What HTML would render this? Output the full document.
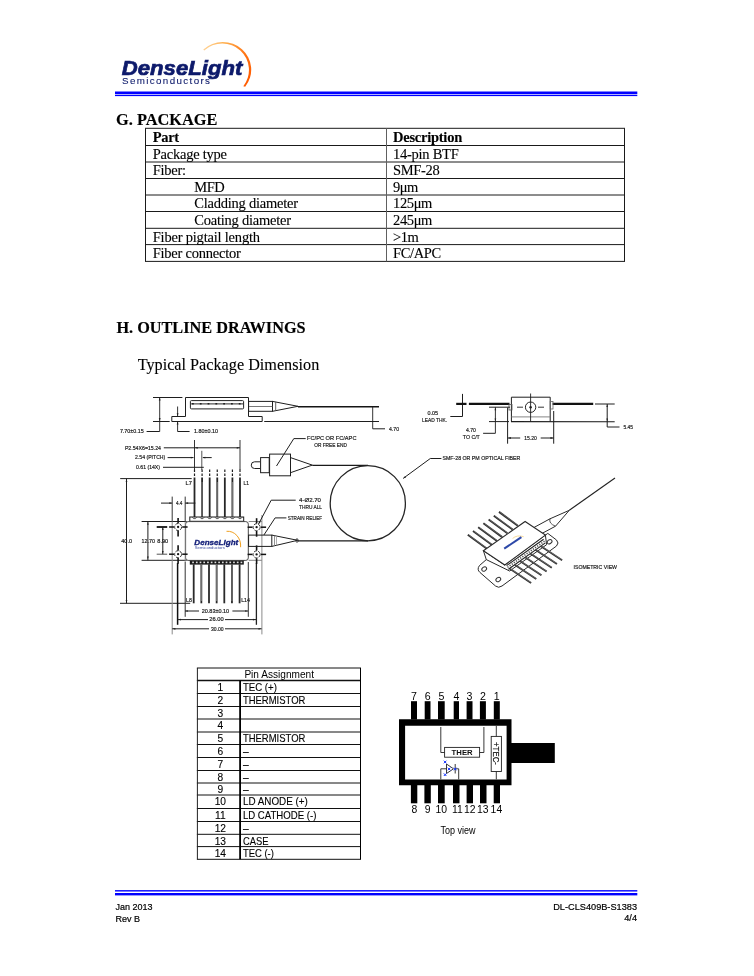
<!DOCTYPE html><html><head><meta charset="utf-8"><title>DenseLight DL-CLS409B-S1383 - Package</title>
<style>html,body{margin:0;padding:0;background:#fff;}body{width:754px;height:976px;overflow:hidden;position:relative;font-family:"Liberation Sans",sans-serif;}svg{position:absolute;left:0;top:0;display:block;will-change:transform;}</style></head><body>
<svg width="754" height="976" viewBox="0 0 754 976">
<defs><linearGradient id="arcg" gradientUnits="userSpaceOnUse" x1="200" y1="45" x2="252" y2="80"><stop offset="0" stop-color="#ffe0b0"/><stop offset="0.3" stop-color="#ffb050"/><stop offset="0.7" stop-color="#ff7010"/><stop offset="1" stop-color="#ff5a00"/></linearGradient></defs>
<path d="M203.3,49.4 A28.5,27.7 0 0 1 245.2,86.7 L243.3,86.3 A26.6,26.5 0 0 0 204.2,50.6 Z" fill="url(#arcg)"/>
<text x="121.8" y="74.7" font-family='"Liberation Sans", sans-serif' font-size="20.5" font-weight="bold" fill="#0d1a6b" text-anchor="start" textLength="120.5" lengthAdjust="spacingAndGlyphs" font-style="italic" stroke="#0d1a6b" stroke-width="0.7">DenseLight</text>
<text x="122" y="84.3" font-family='"Liberation Sans", sans-serif' font-size="9.8" fill="#0d1a6b" textLength="88" lengthAdjust="spacing" stroke="#0d1a6b" stroke-width="0.1">Semiconductors</text>
<rect x="115" y="91.5" width="522.3" height="2.5" fill="#0000ff" stroke="none" stroke-width="1" />
<rect x="115" y="94.7" width="522.3" height="1.4" fill="#0000ff" stroke="none" stroke-width="1" />
<text x="116" y="125" font-family='"Liberation Serif", serif' font-size="16.35" font-weight="bold" fill="#000" text-anchor="start" stroke="#000" stroke-width="0.15">G. PACKAGE</text>
<line x1="145.0" y1="128.3" x2="625.0" y2="128.3" stroke="#1a1a1a" stroke-width="1.0" />
<line x1="145.0" y1="145.5" x2="625.0" y2="145.5" stroke="#1a1a1a" stroke-width="1.0" />
<line x1="145.0" y1="162.0" x2="625.0" y2="162.0" stroke="#1a1a1a" stroke-width="1.0" />
<line x1="145.0" y1="178.5" x2="625.0" y2="178.5" stroke="#1a1a1a" stroke-width="1.0" />
<line x1="145.0" y1="195.0" x2="625.0" y2="195.0" stroke="#1a1a1a" stroke-width="1.0" />
<line x1="145.0" y1="211.5" x2="625.0" y2="211.5" stroke="#1a1a1a" stroke-width="1.0" />
<line x1="145.0" y1="228.3" x2="625.0" y2="228.3" stroke="#1a1a1a" stroke-width="1.0" />
<line x1="145.0" y1="244.6" x2="625.0" y2="244.6" stroke="#1a1a1a" stroke-width="1.0" />
<line x1="145.0" y1="261.4" x2="625.0" y2="261.4" stroke="#1a1a1a" stroke-width="1.0" />
<line x1="145.5" y1="128.3" x2="145.5" y2="261.4" stroke="#1a1a1a" stroke-width="1.0" />
<line x1="624.5" y1="128.3" x2="624.5" y2="261.4" stroke="#1a1a1a" stroke-width="1.0" />
<line x1="386.5" y1="128.3" x2="386.5" y2="261.4" stroke="#606060" stroke-width="1.0" />
<text x="152.7" y="141.7" font-family='"Liberation Serif", serif' font-size="14.5" font-weight="bold" fill="#000" text-anchor="start" textLength="26.43" lengthAdjust="spacing" stroke="#000" stroke-width="0.12">Part</text>
<text x="393" y="141.7" font-family='"Liberation Serif", serif' font-size="14.5" font-weight="bold" fill="#000" text-anchor="start" textLength="69.21" lengthAdjust="spacing" stroke="#000" stroke-width="0.12">Description</text>
<text x="152.7" y="158.9" font-family='"Liberation Serif", serif' font-size="14.5" font-weight="normal" fill="#000" text-anchor="start" textLength="74.25" lengthAdjust="spacing" stroke="#000" stroke-width="0.12">Package type</text>
<text x="393" y="158.9" font-family='"Liberation Serif", serif' font-size="14.5" font-weight="normal" fill="#000" text-anchor="start" textLength="65.73" lengthAdjust="spacing" stroke="#000" stroke-width="0.12">14-pin BTF</text>
<text x="152.7" y="175.4" font-family='"Liberation Serif", serif' font-size="14.5" font-weight="normal" fill="#000" text-anchor="start" textLength="33.44" lengthAdjust="spacing" stroke="#000" stroke-width="0.12">Fiber:</text>
<text x="393" y="175.4" font-family='"Liberation Serif", serif' font-size="14.5" font-weight="normal" fill="#000" text-anchor="start" textLength="46.68" lengthAdjust="spacing" stroke="#000" stroke-width="0.12">SMF-28</text>
<text x="194.3" y="191.9" font-family='"Liberation Serif", serif' font-size="14.5" font-weight="normal" fill="#000" text-anchor="start" textLength="30.35" lengthAdjust="spacing" stroke="#000" stroke-width="0.12">MFD</text>
<text x="393" y="191.9" font-family='"Liberation Serif", serif' font-size="14.5" font-weight="normal" fill="#000" text-anchor="start" textLength="25.4" lengthAdjust="spacing" stroke="#000" stroke-width="0.12">9&#956;m</text>
<text x="194.3" y="208.4" font-family='"Liberation Serif", serif' font-size="14.5" font-weight="normal" fill="#000" text-anchor="start" textLength="103.8" lengthAdjust="spacing" stroke="#000" stroke-width="0.12">Cladding diameter</text>
<text x="393" y="208.4" font-family='"Liberation Serif", serif' font-size="14.5" font-weight="normal" fill="#000" text-anchor="start" textLength="39.4" lengthAdjust="spacing" stroke="#000" stroke-width="0.12">125&#956;m</text>
<text x="194.3" y="224.9" font-family='"Liberation Serif", serif' font-size="14.5" font-weight="normal" fill="#000" text-anchor="start" textLength="96.8" lengthAdjust="spacing" stroke="#000" stroke-width="0.12">Coating diameter</text>
<text x="393" y="224.9" font-family='"Liberation Serif", serif' font-size="14.5" font-weight="normal" fill="#000" text-anchor="start" textLength="39.4" lengthAdjust="spacing" stroke="#000" stroke-width="0.12">245&#956;m</text>
<text x="152.7" y="241.7" font-family='"Liberation Serif", serif' font-size="14.5" font-weight="normal" fill="#000" text-anchor="start" textLength="107.31" lengthAdjust="spacing" stroke="#000" stroke-width="0.12">Fiber pigtail length</text>
<text x="393" y="241.7" font-family='"Liberation Serif", serif' font-size="14.5" font-weight="normal" fill="#000" text-anchor="start" textLength="25.78" lengthAdjust="spacing" stroke="#000" stroke-width="0.12">&gt;1m</text>
<text x="152.7" y="258.0" font-family='"Liberation Serif", serif' font-size="14.5" font-weight="normal" fill="#000" text-anchor="start" textLength="88.25" lengthAdjust="spacing" stroke="#000" stroke-width="0.12">Fiber connector</text>
<text x="393" y="258.0" font-family='"Liberation Serif", serif' font-size="14.5" font-weight="normal" fill="#000" text-anchor="start" textLength="48.25" lengthAdjust="spacing" stroke="#000" stroke-width="0.12">FC/APC</text>
<text x="116.4" y="333.3" font-family='"Liberation Serif", serif' font-size="16.25" font-weight="bold" fill="#000" text-anchor="start" stroke="#000" stroke-width="0.15">H. OUTLINE DRAWINGS</text>
<text x="137.7" y="369.8" font-family='"Liberation Serif", serif' font-size="16.22" font-weight="normal" fill="#000" text-anchor="start" stroke="#000" stroke-width="0.1">Typical Package Dimension</text>
<g id="outline"><line x1="153" y1="397.5" x2="182.4" y2="397.5" stroke="#1e1e1e" stroke-width="1" />
<line x1="159.7" y1="397" x2="159.7" y2="431.5" stroke="#1e1e1e" stroke-width="0.9" />
<path d="M159.7,397.5 L160.58,400.38 L158.82,400.38 Z" fill="#1e1e1e"/>
<path d="M159.7,421 L158.82,418.12 L160.58,418.12 Z" fill="#1e1e1e"/>
<line x1="153" y1="421.5" x2="169.7" y2="421.5" stroke="#1e1e1e" stroke-width="1" />
<line x1="146.6" y1="431.5" x2="159.7" y2="431.5" stroke="#1e1e1e" stroke-width="1" />
<text x="119.9" y="433.21" font-family='"Liberation Sans", sans-serif' font-size="4.75" fill="#1a1a1a" stroke="#1a1a1a" stroke-width="0.16" textLength="23.8" lengthAdjust="spacingAndGlyphs">7.70&#177;0.15</text>
<path d="M185.5,416.5 V397.5 H248.5 V416.5" stroke="#1e1e1e" stroke-width="1" fill="none" />
<rect x="190.4" y="400.6" width="53.2" height="8.3" rx="1" ry="1" fill="none" stroke="#222" stroke-width="1"/>
<line x1="191" y1="403.9" x2="243" y2="403.9" stroke="#2a2a2a" stroke-width="1" />
<line x1="192" y1="403.7" x2="243" y2="403.7" stroke="#222" stroke-width="1.6" stroke-dasharray="1.8,6"/>
<path d="M185.5,416.5 H171.8 V421.5 H262.2 V416.5 H248.5" stroke="#1e1e1e" stroke-width="1" fill="none" />
<line x1="177.6" y1="406.5" x2="177.6" y2="416.4" stroke="#1e1e1e" stroke-width="0.9" />
<path d="M177.6,416.2 L176.72,413.32 L178.48,413.32 Z" fill="#1e1e1e"/>
<line x1="177.6" y1="421.3" x2="177.6" y2="431.5" stroke="#1e1e1e" stroke-width="0.9" />
<path d="M177.6,421.6 L178.48,424.48 L176.72,424.48 Z" fill="#1e1e1e"/>
<line x1="177.6" y1="431.5" x2="189.6" y2="431.5" stroke="#1e1e1e" stroke-width="1" />
<text x="194" y="433.21" font-family='"Liberation Sans", sans-serif' font-size="4.75" fill="#1a1a1a" stroke="#1a1a1a" stroke-width="0.16" textLength="24" lengthAdjust="spacingAndGlyphs">1.80&#177;0.10</text>
<rect x="248.6" y="401.4" width="23.9" height="9.9" stroke="#1e1e1e" stroke-width="1" fill="none" />
<line x1="249" y1="406.5" x2="272.5" y2="406.5" stroke="#555" stroke-width="0.8" />
<path d="M272.5,401.4 L298,406.3 L272.5,411.3" stroke="#1e1e1e" stroke-width="1" fill="none" />
<line x1="275.7" y1="401.8" x2="275.7" y2="411" stroke="#555" stroke-width="0.9" />
<line x1="298" y1="406.8" x2="379" y2="406.8" stroke="#151515" stroke-width="1.5" />
<line x1="264.2" y1="421.5" x2="379" y2="421.5" stroke="#1e1e1e" stroke-width="1.1" />
<line x1="372.7" y1="406.8" x2="372.7" y2="428.8" stroke="#1e1e1e" stroke-width="0.9" />
<line x1="372.7" y1="428.8" x2="385" y2="428.8" stroke="#1e1e1e" stroke-width="1" />
<text x="389" y="430.51" font-family='"Liberation Sans", sans-serif' font-size="4.75" fill="#1a1a1a" stroke="#1a1a1a" stroke-width="0.16" textLength="10" lengthAdjust="spacingAndGlyphs">4.70</text>
<text x="427.4" y="415.31" font-family='"Liberation Sans", sans-serif' font-size="4.75" fill="#1a1a1a" stroke="#1a1a1a" stroke-width="0.16" textLength="10.6" lengthAdjust="spacingAndGlyphs">0.05</text>
<text x="422" y="422.01" font-family='"Liberation Sans", sans-serif' font-size="4.75" fill="#1a1a1a" stroke="#1a1a1a" stroke-width="0.16" textLength="25" lengthAdjust="spacingAndGlyphs">LEAD THK.</text>
<line x1="462.5" y1="393.9" x2="462.5" y2="416.5" stroke="#1e1e1e" stroke-width="1" />
<line x1="450.3" y1="416.5" x2="462.5" y2="416.5" stroke="#1e1e1e" stroke-width="1" />
<line x1="456.2" y1="403.9" x2="466.5" y2="403.9" stroke="#111" stroke-width="2.2" />
<line x1="468.9" y1="403.9" x2="509.5" y2="403.9" stroke="#111" stroke-width="2.2" />
<path d="M511.4,421.5 V397.2 H550.2 V421.5" stroke="#1e1e1e" stroke-width="1" fill="none" />
<line x1="511.4" y1="416.9" x2="550.2" y2="416.9" stroke="#777" stroke-width="0.9" />
<rect x="509" y="404.5" width="3" height="5.5" stroke="#555" stroke-width="0.8" fill="none" />
<line x1="489" y1="407.2" x2="510" y2="407.2" stroke="#1e1e1e" stroke-width="1" />
<line x1="517" y1="407.2" x2="523" y2="407.2" stroke="#1e1e1e" stroke-width="0.9" />
<line x1="538" y1="407.2" x2="544" y2="407.2" stroke="#1e1e1e" stroke-width="0.9" />
<circle cx="530.6" cy="407.2" r="5.2" fill="none" stroke="#222" stroke-width="1"/>
<circle cx="530.6" cy="407.2" r="1.2" fill="#222"/>
<line x1="530.6" y1="393.5" x2="530.6" y2="421.8" stroke="#1e1e1e" stroke-width="0.9" />
<line x1="489" y1="421.6" x2="509" y2="421.6" stroke="#1e1e1e" stroke-width="1" />
<line x1="511" y1="421.6" x2="614.7" y2="421.7" stroke="#1e1e1e" stroke-width="1.1" />
<line x1="495.4" y1="407.2" x2="495.4" y2="433.3" stroke="#1e1e1e" stroke-width="0.9" />
<path d="M495.4,407.6 L496.22,410.3 L494.57,410.3 Z" fill="#1e1e1e"/>
<path d="M495.4,421.2 L494.57,418.5 L496.22,418.5 Z" fill="#1e1e1e"/>
<line x1="483.1" y1="433.3" x2="495.4" y2="433.3" stroke="#1e1e1e" stroke-width="1" />
<text x="465.9" y="431.81" font-family='"Liberation Sans", sans-serif' font-size="4.75" fill="#1a1a1a" stroke="#1a1a1a" stroke-width="0.16" textLength="9.9" lengthAdjust="spacingAndGlyphs">4.70</text>
<text x="462.8" y="439.01" font-family='"Liberation Sans", sans-serif' font-size="4.75" fill="#1a1a1a" stroke="#1a1a1a" stroke-width="0.16" textLength="17.0" lengthAdjust="spacingAndGlyphs">TO C/T</text>
<line x1="507.6" y1="407.5" x2="507.6" y2="443.7" stroke="#1e1e1e" stroke-width="1" />
<line x1="507.6" y1="438" x2="520.2" y2="438" stroke="#1e1e1e" stroke-width="1" />
<path d="M508,438 L510.88,437.12 L510.88,438.88 Z" fill="#1e1e1e"/>
<text x="524.2" y="439.71" font-family='"Liberation Sans", sans-serif' font-size="4.75" fill="#1a1a1a" stroke="#1a1a1a" stroke-width="0.16" textLength="12.6" lengthAdjust="spacingAndGlyphs">15.20</text>
<line x1="553.7" y1="411" x2="553.7" y2="443.7" stroke="#1e1e1e" stroke-width="1" />
<line x1="540.7" y1="438" x2="553.7" y2="438" stroke="#1e1e1e" stroke-width="1" />
<path d="M553.3,438 L550.42,438.88 L550.42,437.12 Z" fill="#1e1e1e"/>
<line x1="552.6" y1="403.9" x2="593.2" y2="403.9" stroke="#111" stroke-width="2.2" />
<rect x="550.2" y="401.5" width="2.8" height="7.5" stroke="#666" stroke-width="0.8" fill="none" />
<line x1="595" y1="404" x2="614.7" y2="404" stroke="#1e1e1e" stroke-width="1" />
<line x1="607.2" y1="404" x2="607.2" y2="427" stroke="#1e1e1e" stroke-width="1" />
<path d="M607.2,404.4 L608.03,407.1 L606.38,407.1 Z" fill="#1e1e1e"/>
<path d="M607.2,421.3 L606.38,418.6 L608.03,418.6 Z" fill="#1e1e1e"/>
<line x1="607.2" y1="427" x2="619.5" y2="427" stroke="#1e1e1e" stroke-width="1" />
<text x="623.5" y="428.71" font-family='"Liberation Sans", sans-serif' font-size="4.75" fill="#1a1a1a" stroke="#1a1a1a" stroke-width="0.16" textLength="9.5" lengthAdjust="spacingAndGlyphs">5.45</text>
<text x="124.9" y="449.51" font-family='"Liberation Sans", sans-serif' font-size="4.75" fill="#1a1a1a" stroke="#1a1a1a" stroke-width="0.16" textLength="36.1" lengthAdjust="spacingAndGlyphs">P2.54X6=15.24</text>
<line x1="163.8" y1="447.8" x2="240" y2="447.8" stroke="#1e1e1e" stroke-width="1" />
<path d="M239.6,447.8 L236.72,448.68 L236.72,446.92 Z" fill="#1e1e1e"/>
<path d="M194.9,447.8 L197.78,446.92 L197.78,448.68 Z" fill="#1e1e1e"/>
<line x1="194.5" y1="440" x2="194.5" y2="470" stroke="#1e1e1e" stroke-width="0.9" />
<line x1="240" y1="440" x2="240" y2="470" stroke="#1e1e1e" stroke-width="0.9" />
<text x="135" y="459.31" font-family='"Liberation Sans", sans-serif' font-size="4.75" fill="#1a1a1a" stroke="#1a1a1a" stroke-width="0.16" textLength="30.3" lengthAdjust="spacingAndGlyphs">2.54 (PITCH)</text>
<line x1="167.6" y1="457.6" x2="193.5" y2="457.6" stroke="#1e1e1e" stroke-width="1" />
<path d="M193.5,457.6 L190.8,458.43 L190.8,456.78 Z" fill="#1e1e1e"/>
<line x1="202.8" y1="457.6" x2="211.7" y2="457.6" stroke="#1e1e1e" stroke-width="1" />
<path d="M202.6,457.6 L205.3,456.78 L205.3,458.43 Z" fill="#1e1e1e"/>
<line x1="201.8" y1="450.8" x2="201.8" y2="470" stroke="#555" stroke-width="1" />
<text x="136" y="469.01" font-family='"Liberation Sans", sans-serif' font-size="4.75" fill="#1a1a1a" stroke="#1a1a1a" stroke-width="0.16" textLength="24" lengthAdjust="spacingAndGlyphs">0.61 (14X)</text>
<line x1="163" y1="467.3" x2="203.8" y2="467.3" stroke="#1e1e1e" stroke-width="1" />
<line x1="194.5" y1="469.5" x2="194.5" y2="476.5" stroke="#1e1e1e" stroke-width="1.2" stroke-dasharray="2.5,1.5"/>
<line x1="194.5" y1="477.5" x2="194.5" y2="517" stroke="#262626" stroke-width="1.8" />
<line x1="202.08333333333334" y1="469.5" x2="202.08333333333334" y2="476.5" stroke="#1e1e1e" stroke-width="1.2" stroke-dasharray="2.5,1.5"/>
<line x1="202.08333333333334" y1="477.5" x2="202.08333333333334" y2="517" stroke="#262626" stroke-width="1.8" />
<line x1="202.08333333333334" y1="482" x2="202.08333333333334" y2="517" stroke="#b0b0b0" stroke-width="0.6" />
<line x1="209.66666666666666" y1="469.5" x2="209.66666666666666" y2="476.5" stroke="#1e1e1e" stroke-width="1.2" stroke-dasharray="2.5,1.5"/>
<line x1="209.66666666666666" y1="477.5" x2="209.66666666666666" y2="517" stroke="#262626" stroke-width="1.8" />
<line x1="217.25" y1="469.5" x2="217.25" y2="476.5" stroke="#1e1e1e" stroke-width="1.2" stroke-dasharray="2.5,1.5"/>
<line x1="217.25" y1="477.5" x2="217.25" y2="517" stroke="#262626" stroke-width="1.8" />
<line x1="217.25" y1="482" x2="217.25" y2="517" stroke="#b0b0b0" stroke-width="0.6" />
<line x1="224.83333333333334" y1="469.5" x2="224.83333333333334" y2="476.5" stroke="#1e1e1e" stroke-width="1.2" stroke-dasharray="2.5,1.5"/>
<line x1="224.83333333333334" y1="477.5" x2="224.83333333333334" y2="517" stroke="#262626" stroke-width="1.8" />
<line x1="232.41666666666666" y1="469.5" x2="232.41666666666666" y2="476.5" stroke="#1e1e1e" stroke-width="1.2" stroke-dasharray="2.5,1.5"/>
<line x1="232.41666666666666" y1="477.5" x2="232.41666666666666" y2="517" stroke="#262626" stroke-width="1.8" />
<line x1="232.41666666666666" y1="482" x2="232.41666666666666" y2="517" stroke="#b0b0b0" stroke-width="0.6" />
<line x1="240.0" y1="469.5" x2="240.0" y2="476.5" stroke="#1e1e1e" stroke-width="1.2" stroke-dasharray="2.5,1.5"/>
<line x1="240.0" y1="477.5" x2="240.0" y2="517" stroke="#262626" stroke-width="1.8" />
<text x="185.5" y="485.31" font-family='"Liberation Sans", sans-serif' font-size="4.75" fill="#1a1a1a" stroke="#1a1a1a" stroke-width="0.16" textLength="6.3" lengthAdjust="spacingAndGlyphs">L7</text>
<text x="243.6" y="485.31" font-family='"Liberation Sans", sans-serif' font-size="4.75" fill="#1a1a1a" stroke="#1a1a1a" stroke-width="0.16" textLength="5.4" lengthAdjust="spacingAndGlyphs">L1</text>
<line x1="120.2" y1="478.6" x2="191.7" y2="478.6" stroke="#1e1e1e" stroke-width="1" />
<line x1="126.5" y1="478.6" x2="126.5" y2="603.3" stroke="#1e1e1e" stroke-width="1" />
<path d="M126.5,479 L127.38,481.88 L125.62,481.88 Z" fill="#1e1e1e"/>
<path d="M126.5,603 L125.62,600.12 L127.38,600.12 Z" fill="#1e1e1e"/>
<text x="121.3" y="542.71" font-family='"Liberation Sans", sans-serif' font-size="4.75" fill="#1a1a1a" stroke="#1a1a1a" stroke-width="0.16" textLength="10.7" lengthAdjust="spacingAndGlyphs">40.0</text>
<line x1="120" y1="603.3" x2="190.2" y2="603.3" stroke="#1e1e1e" stroke-width="1" />
<line x1="161" y1="503.1" x2="172.2" y2="503.1" stroke="#1e1e1e" stroke-width="1" />
<path d="M172,503.1 L169.3,503.93 L169.3,502.28 Z" fill="#1e1e1e"/>
<line x1="185.2" y1="503.1" x2="195.4" y2="503.1" stroke="#1e1e1e" stroke-width="1" />
<path d="M185.4,503.1 L188.1,502.28 L188.1,503.93 Z" fill="#1e1e1e"/>
<text x="175.9" y="504.81" font-family='"Liberation Sans", sans-serif' font-size="4.75" fill="#1a1a1a" stroke="#1a1a1a" stroke-width="0.16" textLength="6.5" lengthAdjust="spacingAndGlyphs">4.4</text>
<rect x="189.8" y="517" width="53.9" height="4.3" stroke="#1a1a1a" stroke-width="1" fill="none" />
<path d="M192.3,517.2 L193.5,518.6 H195.5 L196.7,517.2" stroke="#333" stroke-width="0.8" fill="none" />
<path d="M199.88,517.2 L201.08,518.6 H203.08 L204.28,517.2" stroke="#333" stroke-width="0.8" fill="none" />
<path d="M207.47,517.2 L208.67,518.6 H210.67 L211.87,517.2" stroke="#333" stroke-width="0.8" fill="none" />
<path d="M215.05,517.2 L216.25,518.6 H218.25 L219.45,517.2" stroke="#333" stroke-width="0.8" fill="none" />
<path d="M222.63,517.2 L223.83,518.6 H225.83 L227.03,517.2" stroke="#333" stroke-width="0.8" fill="none" />
<path d="M230.22,517.2 L231.42,518.6 H233.42 L234.62,517.2" stroke="#333" stroke-width="0.8" fill="none" />
<path d="M237.8,517.2 L239.0,518.6 H241.0 L242.2,517.2" stroke="#333" stroke-width="0.8" fill="none" />
<line x1="141.6" y1="521.5" x2="186.7" y2="521.5" stroke="#1e1e1e" stroke-width="1" />
<line x1="141.6" y1="560.3" x2="186.7" y2="560.3" stroke="#1e1e1e" stroke-width="1" />
<line x1="147.9" y1="521.5" x2="147.9" y2="560.3" stroke="#1e1e1e" stroke-width="1" />
<path d="M147.9,522 L148.72,524.7 L147.08,524.7 Z" fill="#1e1e1e"/>
<path d="M147.9,559.3 L147.08,556.6 L148.72,556.6 Z" fill="#1e1e1e"/>
<text x="141.6" y="542.71" font-family='"Liberation Sans", sans-serif' font-size="4.75" fill="#1a1a1a" stroke="#1a1a1a" stroke-width="0.16" textLength="13.4" lengthAdjust="spacingAndGlyphs">12.70</text>
<line x1="156.7" y1="527" x2="167.2" y2="527" stroke="#111" stroke-width="1.8" />
<line x1="156.7" y1="554.2" x2="167.2" y2="554.2" stroke="#555" stroke-width="1" />
<line x1="162.8" y1="527" x2="162.8" y2="554.2" stroke="#1e1e1e" stroke-width="1" />
<path d="M162.8,527.4 L163.62,530.1 L161.98,530.1 Z" fill="#1e1e1e"/>
<path d="M162.8,553.8 L161.98,551.1 L163.62,551.1 Z" fill="#1e1e1e"/>
<text x="157.3" y="542.71" font-family='"Liberation Sans", sans-serif' font-size="4.75" fill="#1a1a1a" stroke="#1a1a1a" stroke-width="0.16" textLength="10.9" lengthAdjust="spacingAndGlyphs">8.90</text>
<line x1="248.7" y1="521.5" x2="262" y2="521.5" stroke="#777" stroke-width="0.9" />
<line x1="248.7" y1="560.3" x2="262" y2="560.3" stroke="#777" stroke-width="0.9" />
<rect x="185.6" y="521.6" width="62.7" height="38.8" rx="2.5" ry="2.5" fill="#fff" stroke="#333" stroke-width="0.9"/>
<path d="M226.5,531.3 A13,14.5 0 0 1 240.6,547.2" fill="none" stroke="#f0a020" stroke-width="1"/>
<text x="194.3" y="545" font-family='"Liberation Sans", sans-serif' font-size="8" font-weight="bold" font-style="italic" fill="#14207a" stroke="#14207a" stroke-width="0.3" textLength="44" lengthAdjust="spacingAndGlyphs">DenseLight</text>
<text x="194.8" y="548.8" font-family='"Liberation Sans", sans-serif' font-size="3.4" fill="#3a4aa0" textLength="30" lengthAdjust="spacingAndGlyphs">Semiconductors</text>
<rect x="189.8" y="560.6" width="54.0" height="4.0" stroke="none" stroke-width="0" fill="#1a1a1a" />
<rect x="192.2" y="561.6" width="1.7" height="1.6" fill="#fff" opacity="0.85"/>
<rect x="195.92" y="561.6" width="1.7" height="1.6" fill="#fff" opacity="0.85"/>
<rect x="199.64" y="561.6" width="1.7" height="1.6" fill="#fff" opacity="0.85"/>
<rect x="203.36" y="561.6" width="1.7" height="1.6" fill="#fff" opacity="0.85"/>
<rect x="207.08" y="561.6" width="1.7" height="1.6" fill="#fff" opacity="0.85"/>
<rect x="210.8" y="561.6" width="1.7" height="1.6" fill="#fff" opacity="0.85"/>
<rect x="214.52" y="561.6" width="1.7" height="1.6" fill="#fff" opacity="0.85"/>
<rect x="218.24" y="561.6" width="1.7" height="1.6" fill="#fff" opacity="0.85"/>
<rect x="221.96" y="561.6" width="1.7" height="1.6" fill="#fff" opacity="0.85"/>
<rect x="225.68" y="561.6" width="1.7" height="1.6" fill="#fff" opacity="0.85"/>
<rect x="229.4" y="561.6" width="1.7" height="1.6" fill="#fff" opacity="0.85"/>
<rect x="233.12" y="561.6" width="1.7" height="1.6" fill="#fff" opacity="0.85"/>
<rect x="236.84" y="561.6" width="1.7" height="1.6" fill="#fff" opacity="0.85"/>
<rect x="240.56" y="561.6" width="1.7" height="1.6" fill="#fff" opacity="0.85"/>
<line x1="193.7" y1="564.3" x2="193.7" y2="603.3" stroke="#2a2a2a" stroke-width="1.8" />
<line x1="201.35" y1="564.3" x2="201.35" y2="603.3" stroke="#2a2a2a" stroke-width="1.8" />
<line x1="201.35" y1="564.3" x2="201.35" y2="601" stroke="#b0b0b0" stroke-width="0.6" />
<line x1="209.0" y1="564.3" x2="209.0" y2="603.3" stroke="#2a2a2a" stroke-width="1.8" />
<line x1="216.64999999999998" y1="564.3" x2="216.64999999999998" y2="603.3" stroke="#2a2a2a" stroke-width="1.8" />
<line x1="216.64999999999998" y1="564.3" x2="216.64999999999998" y2="601" stroke="#b0b0b0" stroke-width="0.6" />
<line x1="224.29999999999998" y1="564.3" x2="224.29999999999998" y2="603.3" stroke="#2a2a2a" stroke-width="1.8" />
<line x1="231.95" y1="564.3" x2="231.95" y2="603.3" stroke="#2a2a2a" stroke-width="1.8" />
<line x1="231.95" y1="564.3" x2="231.95" y2="601" stroke="#b0b0b0" stroke-width="0.6" />
<line x1="239.6" y1="564.3" x2="239.6" y2="603.3" stroke="#2a2a2a" stroke-width="1.8" />
<text x="186" y="602.31" font-family='"Liberation Sans", sans-serif' font-size="4.75" fill="#1a1a1a" stroke="#1a1a1a" stroke-width="0.16" textLength="5.8" lengthAdjust="spacingAndGlyphs">L8</text>
<text x="241.2" y="602.31" font-family='"Liberation Sans", sans-serif' font-size="4.75" fill="#1a1a1a" stroke="#1a1a1a" stroke-width="0.16" textLength="8.8" lengthAdjust="spacingAndGlyphs">L14</text>
<line x1="172.2" y1="496.6" x2="172.2" y2="521.5" stroke="#1e1e1e" stroke-width="0.9" />
<line x1="172.2" y1="521.5" x2="172.2" y2="634.4" stroke="#8a8a8a" stroke-width="1" />
<line x1="185.2" y1="496.6" x2="185.2" y2="521.5" stroke="#1e1e1e" stroke-width="0.9" />
<line x1="185.2" y1="521.5" x2="185.2" y2="562" stroke="#8a8a8a" stroke-width="0.9" />
<line x1="185.2" y1="562" x2="185.2" y2="616.8" stroke="#333" stroke-width="1" />
<line x1="248.3" y1="562" x2="248.3" y2="616.8" stroke="#333" stroke-width="1" />
<line x1="261.9" y1="515" x2="261.9" y2="634.4" stroke="#8a8a8a" stroke-width="1" />
<line x1="177.6" y1="563" x2="177.6" y2="624.8" stroke="#111" stroke-width="1.5" />
<line x1="256.4" y1="563" x2="256.4" y2="624.8" stroke="#222" stroke-width="1.3" />
<circle cx="178.1" cy="527.0" r="3.5" fill="#fff" stroke="#222" stroke-width="0.9" stroke-dasharray="3.2,1.2"/>
<circle cx="178.1" cy="527.0" r="1.15" fill="#111"/>
<line x1="178.1" y1="518.0" x2="178.1" y2="523.2" stroke="#111" stroke-width="1.6" />
<line x1="178.1" y1="530.8" x2="178.1" y2="536.5" stroke="#111" stroke-width="1.6" />
<line x1="169.1" y1="527.0" x2="174.0" y2="527.0" stroke="#111" stroke-width="1.5" />
<line x1="182.2" y1="527.0" x2="187.6" y2="527.0" stroke="#111" stroke-width="1.5" />
<circle cx="178.1" cy="554.2" r="3.5" fill="#fff" stroke="#222" stroke-width="0.9" stroke-dasharray="3.2,1.2"/>
<circle cx="178.1" cy="554.2" r="1.15" fill="#111"/>
<line x1="178.1" y1="545.2" x2="178.1" y2="550.4000000000001" stroke="#111" stroke-width="1.6" />
<line x1="178.1" y1="558.0" x2="178.1" y2="563.7" stroke="#111" stroke-width="1.6" />
<line x1="169.1" y1="554.2" x2="174.0" y2="554.2" stroke="#111" stroke-width="1.5" />
<line x1="182.2" y1="554.2" x2="187.6" y2="554.2" stroke="#111" stroke-width="1.5" />
<circle cx="256.6" cy="527.2" r="3.5" fill="#fff" stroke="#222" stroke-width="0.9" stroke-dasharray="3.2,1.2"/>
<circle cx="256.6" cy="527.2" r="1.15" fill="#111"/>
<line x1="256.6" y1="518.2" x2="256.6" y2="523.4000000000001" stroke="#111" stroke-width="1.6" />
<line x1="256.6" y1="531.0" x2="256.6" y2="536.7" stroke="#111" stroke-width="1.6" />
<line x1="247.60000000000002" y1="527.2" x2="252.50000000000003" y2="527.2" stroke="#111" stroke-width="1.5" />
<line x1="260.70000000000005" y1="527.2" x2="266.1" y2="527.2" stroke="#111" stroke-width="1.5" />
<circle cx="256.6" cy="554.4" r="3.5" fill="#fff" stroke="#222" stroke-width="0.9" stroke-dasharray="3.2,1.2"/>
<circle cx="256.6" cy="554.4" r="1.15" fill="#111"/>
<line x1="256.6" y1="545.4" x2="256.6" y2="550.6" stroke="#111" stroke-width="1.6" />
<line x1="256.6" y1="558.1999999999999" x2="256.6" y2="563.9" stroke="#111" stroke-width="1.6" />
<line x1="247.60000000000002" y1="554.4" x2="252.50000000000003" y2="554.4" stroke="#111" stroke-width="1.5" />
<line x1="260.70000000000005" y1="554.4" x2="266.1" y2="554.4" stroke="#111" stroke-width="1.5" />
<line x1="185" y1="611" x2="199" y2="611" stroke="#1e1e1e" stroke-width="1" />
<line x1="232.4" y1="611" x2="248" y2="611" stroke="#1e1e1e" stroke-width="1" />
<path d="M185.2,611 L187.9,610.17 L187.9,611.83 Z" fill="#1e1e1e"/>
<path d="M247.8,611 L245.1,611.83 L245.1,610.17 Z" fill="#1e1e1e"/>
<text x="201.7" y="612.71" font-family='"Liberation Sans", sans-serif' font-size="4.75" fill="#1a1a1a" stroke="#1a1a1a" stroke-width="0.16" textLength="27.5" lengthAdjust="spacingAndGlyphs">20.83&#177;0.10</text>
<line x1="177.8" y1="619.6" x2="208" y2="619.6" stroke="#1e1e1e" stroke-width="1" />
<line x1="225" y1="619.6" x2="256" y2="619.6" stroke="#1e1e1e" stroke-width="1" />
<path d="M178,619.6 L180.88,618.72 L180.88,620.48 Z" fill="#1e1e1e"/>
<path d="M255.8,619.6 L252.92,620.48 L252.92,618.72 Z" fill="#1e1e1e"/>
<text x="209.3" y="621.31" font-family='"Liberation Sans", sans-serif' font-size="4.75" fill="#1a1a1a" stroke="#1a1a1a" stroke-width="0.16" textLength="14.4" lengthAdjust="spacingAndGlyphs">26.00</text>
<line x1="172.2" y1="628.8" x2="209" y2="628.8" stroke="#1e1e1e" stroke-width="1" />
<line x1="225" y1="628.8" x2="261.6" y2="628.8" stroke="#1e1e1e" stroke-width="1" />
<path d="M172.5,628.8 L175.38,627.92 L175.38,629.68 Z" fill="#1e1e1e"/>
<path d="M261.4,628.8 L258.52,629.68 L258.52,627.92 Z" fill="#1e1e1e"/>
<text x="211" y="630.51" font-family='"Liberation Sans", sans-serif' font-size="4.75" fill="#1a1a1a" stroke="#1a1a1a" stroke-width="0.16" textLength="12.7" lengthAdjust="spacingAndGlyphs">30.00</text>
<rect x="248.6" y="535.1" width="23.2" height="11.3" stroke="#1e1e1e" stroke-width="1" fill="none" />
<path d="M271.8,535.1 L297.7,540.3 L271.8,546.4" stroke="#1e1e1e" stroke-width="1" fill="none" />
<line x1="274.5" y1="535.6" x2="274.5" y2="545.8" stroke="#777" stroke-width="0.8" />
<line x1="276.5" y1="536" x2="276.5" y2="545.4" stroke="#999" stroke-width="0.8" />
<ellipse cx="297" cy="540.5" rx="1.2" ry="1.8" fill="none" stroke="#222" stroke-width="0.8"/>
<line x1="297.7" y1="540.9" x2="368" y2="540.9" stroke="#1a1a1a" stroke-width="1.3" />
<path d="M258.6,523.9 L271.2,500.2 H295.7" stroke="#1e1e1e" stroke-width="1" fill="none" />
<path d="M258.6,523.9 L259.14,521.13 L260.6,521.91 Z" fill="#1e1e1e"/>
<text x="299" y="501.71" font-family='"Liberation Sans", sans-serif' font-size="4.75" fill="#1a1a1a" stroke="#1a1a1a" stroke-width="0.16" textLength="22" lengthAdjust="spacingAndGlyphs">4-&#216;2.70</text>
<text x="299" y="508.61" font-family='"Liberation Sans", sans-serif' font-size="4.75" fill="#1a1a1a" stroke="#1a1a1a" stroke-width="0.16" textLength="23" lengthAdjust="spacingAndGlyphs">THRU ALL</text>
<path d="M263.9,535 L275.1,517.9 H286.4" stroke="#1e1e1e" stroke-width="1" fill="none" />
<text x="287.7" y="519.61" font-family='"Liberation Sans", sans-serif' font-size="4.75" fill="#1a1a1a" stroke="#1a1a1a" stroke-width="0.16" textLength="34.5" lengthAdjust="spacingAndGlyphs">STRAIN RELIEF</text>
<path d="M260,461.8 H254.6 A3.35,3.35 0 0 0 254.6,468.5 H260" stroke="#1e1e1e" stroke-width="1" fill="none" />
<rect x="260.6" y="457.6" width="8.6" height="15.1" stroke="#1e1e1e" stroke-width="1" fill="none" />
<rect x="269.6" y="454.1" width="20.9" height="21.7" stroke="#1e1e1e" stroke-width="1" fill="none" />
<path d="M290.5,457.6 L312.3,465.1 L290.5,472.7" stroke="#1e1e1e" stroke-width="1" fill="none" />
<line x1="312.3" y1="465.3" x2="368" y2="465.3" stroke="#1a1a1a" stroke-width="1.3" />
<path d="M276.5,466 L293.8,438.6 H305.7" stroke="#1e1e1e" stroke-width="1" fill="none" />
<text x="307" y="440.31" font-family='"Liberation Sans", sans-serif' font-size="4.75" fill="#1a1a1a" stroke="#1a1a1a" stroke-width="0.16" textLength="49.5" lengthAdjust="spacingAndGlyphs">FC/PC OR FC/APC</text>
<text x="314.2" y="446.71" font-family='"Liberation Sans", sans-serif' font-size="4.75" fill="#1a1a1a" stroke="#1a1a1a" stroke-width="0.16" textLength="32.7" lengthAdjust="spacingAndGlyphs">OR FREE END</text>
<circle cx="367.8" cy="503.2" r="37.6" fill="none" stroke="#252525" stroke-width="1.3"/>
<path d="M403.2,478.4 L430.3,458.5 H441.4" stroke="#1e1e1e" stroke-width="1" fill="none" />
<path d="M403.2,478.4 L405.01,475.99 L406.05,477.42 Z" fill="#1e1e1e"/>
<text x="442.4" y="460.21" font-family='"Liberation Sans", sans-serif' font-size="4.75" fill="#1a1a1a" stroke="#1a1a1a" stroke-width="0.16" textLength="78.0" lengthAdjust="spacingAndGlyphs">SMF-28 OR PM OPTICAL FIBER</text>
<line x1="615" y1="478" x2="569.3" y2="510.3" stroke="#222" stroke-width="1.1" />
<path d="M569.3,510.3 L550,518.8 M569.3,510.3 L555.5,526.2" stroke="#2a2a2a" stroke-width="1" fill="none" />
<path d="M550,518.8 Q548.5,523.5 555.5,526.2" stroke="#444" stroke-width="0.9" fill="none" />
<path d="M550,518.8 L533,528 M555.5,526.2 L540,534.5" stroke="#2a2a2a" stroke-width="1" fill="none" />
<line x1="467.8" y1="534.8" x2="486.6" y2="548.5999999999999" stroke="#2e2e2e" stroke-width="1.9" />
<line x1="468.8" y1="535.1999999999999" x2="486.6" y2="548.1999999999999" stroke="#888" stroke-width="0.5" />
<line x1="473.0" y1="530.9799999999999" x2="491.8" y2="544.7799999999999" stroke="#2e2e2e" stroke-width="1.9" />
<line x1="474.0" y1="531.3799999999999" x2="491.8" y2="544.3799999999999" stroke="#888" stroke-width="0.5" />
<line x1="478.2" y1="527.16" x2="497.0" y2="540.9599999999999" stroke="#2e2e2e" stroke-width="1.9" />
<line x1="479.2" y1="527.56" x2="497.0" y2="540.56" stroke="#888" stroke-width="0.5" />
<line x1="483.40000000000003" y1="523.3399999999999" x2="502.20000000000005" y2="537.1399999999999" stroke="#2e2e2e" stroke-width="1.9" />
<line x1="484.40000000000003" y1="523.7399999999999" x2="502.20000000000005" y2="536.7399999999999" stroke="#888" stroke-width="0.5" />
<line x1="488.6" y1="519.52" x2="507.40000000000003" y2="533.3199999999999" stroke="#2e2e2e" stroke-width="1.9" />
<line x1="489.6" y1="519.92" x2="507.40000000000003" y2="532.92" stroke="#888" stroke-width="0.5" />
<line x1="493.8" y1="515.6999999999999" x2="512.6" y2="529.4999999999999" stroke="#2e2e2e" stroke-width="1.9" />
<line x1="494.8" y1="516.0999999999999" x2="512.6" y2="529.0999999999999" stroke="#888" stroke-width="0.5" />
<line x1="499.0" y1="511.87999999999994" x2="517.8" y2="525.68" stroke="#2e2e2e" stroke-width="1.9" />
<line x1="500.0" y1="512.28" x2="517.8" y2="525.28" stroke="#888" stroke-width="0.5" />
<path d="M486.3,559.6 L479.5,565.5 Q476.5,569.5 480,572.5 L495.5,586 Q498.5,588.5 502,586 L556.5,546 Q559.5,543 556.5,540 L547.8,533.4 L545.4,535.1 Z" stroke="#2a2a2a" stroke-width="1" fill="#fff" />
<ellipse cx="484.2" cy="569" rx="2.6" ry="1.9" transform="rotate(-36 484.2 569)" fill="none" stroke="#333" stroke-width="1"/>
<ellipse cx="498.3" cy="579.5" rx="2.6" ry="1.9" transform="rotate(-36 498.3 579.5)" fill="none" stroke="#333" stroke-width="1"/>
<ellipse cx="549.6" cy="541.7" rx="2.6" ry="1.9" transform="rotate(-36 549.6 541.7)" fill="none" stroke="#333" stroke-width="1"/>
<path d="M483.4,550.7 L486.3,559.6 L509.6,571 L546.6,544.7 L545.4,535.1 L504.8,565 Z" stroke="#2a2a2a" stroke-width="1" fill="#fff" />
<path d="M483.4,550.7 L525.1,521.5 L545.4,535.1 L504.8,565 Z" stroke="#2a2a2a" stroke-width="1.1" fill="#fff" />
<path d="M506.6,565.6 L543.6,539.3 M508.4,569.2 L545.4,542.9" stroke="#222" stroke-width="1.1" fill="none" />
<path d="M507.5,567.4 L544.5,541.1" stroke="#555" stroke-width="1.6" fill="none" stroke-dasharray="1.2,1.4"/>
<line x1="509.6" y1="568.6" x2="531.1" y2="582.9" stroke="#2e2e2e" stroke-width="1.8" />
<line x1="510.1" y1="568.6" x2="530.6" y2="582.3" stroke="#999" stroke-width="0.5" />
<line x1="514.77" y1="564.82" x2="536.27" y2="579.12" stroke="#2e2e2e" stroke-width="1.8" />
<line x1="515.27" y1="564.82" x2="535.77" y2="578.52" stroke="#999" stroke-width="0.5" />
<line x1="519.94" y1="561.0400000000001" x2="541.44" y2="575.34" stroke="#2e2e2e" stroke-width="1.8" />
<line x1="520.44" y1="561.0400000000001" x2="540.94" y2="574.74" stroke="#999" stroke-width="0.5" />
<line x1="525.11" y1="557.26" x2="546.61" y2="571.56" stroke="#2e2e2e" stroke-width="1.8" />
<line x1="525.61" y1="557.26" x2="546.11" y2="570.9599999999999" stroke="#999" stroke-width="0.5" />
<line x1="530.28" y1="553.48" x2="551.78" y2="567.78" stroke="#2e2e2e" stroke-width="1.8" />
<line x1="530.78" y1="553.48" x2="551.28" y2="567.18" stroke="#999" stroke-width="0.5" />
<line x1="535.45" y1="549.7" x2="556.95" y2="564.0" stroke="#2e2e2e" stroke-width="1.8" />
<line x1="535.95" y1="549.7" x2="556.45" y2="563.4" stroke="#999" stroke-width="0.5" />
<line x1="540.62" y1="545.9200000000001" x2="562.12" y2="560.22" stroke="#2e2e2e" stroke-width="1.8" />
<line x1="541.12" y1="545.9200000000001" x2="561.62" y2="559.62" stroke="#999" stroke-width="0.5" />
<path d="M512.6,538.5 Q517,534.5 523.7,536.7" fill="none" stroke="#f4d080" stroke-width="0.8"/>
<line x1="504.2" y1="548.7" x2="521.4" y2="537.1" stroke="#2c48a8" stroke-width="2" />
<text x="573.5" y="568.91" font-family='"Liberation Sans", sans-serif' font-size="4.75" fill="#1a1a1a" stroke="#1a1a1a" stroke-width="0.16" textLength="43.5" lengthAdjust="spacingAndGlyphs">ISOMETRIC VIEW</text></g>
<line x1="196.9" y1="668.0" x2="361.0" y2="668.0" stroke="#111" stroke-width="1.0" />
<line x1="196.9" y1="680.5" x2="361.0" y2="680.5" stroke="#111" stroke-width="1.6" />
<line x1="196.9" y1="693.5" x2="361.0" y2="693.5" stroke="#111" stroke-width="1.0" />
<line x1="196.9" y1="706.5" x2="361.0" y2="706.5" stroke="#111" stroke-width="1.0" />
<line x1="196.9" y1="719.0" x2="361.0" y2="719.0" stroke="#111" stroke-width="1.0" />
<line x1="196.9" y1="732.0" x2="361.0" y2="732.0" stroke="#111" stroke-width="1.0" />
<line x1="196.9" y1="744.5" x2="361.0" y2="744.5" stroke="#111" stroke-width="1.0" />
<line x1="196.9" y1="757.5" x2="361.0" y2="757.5" stroke="#111" stroke-width="1.0" />
<line x1="196.9" y1="770.5" x2="361.0" y2="770.5" stroke="#111" stroke-width="1.0" />
<line x1="196.9" y1="783.0" x2="361.0" y2="783.0" stroke="#111" stroke-width="1.0" />
<line x1="196.9" y1="795.0" x2="361.0" y2="795.0" stroke="#111" stroke-width="1.0" />
<line x1="196.9" y1="808.5" x2="361.0" y2="808.5" stroke="#111" stroke-width="1.0" />
<line x1="196.9" y1="821.5" x2="361.0" y2="821.5" stroke="#111" stroke-width="1.0" />
<line x1="196.9" y1="834.3" x2="361.0" y2="834.3" stroke="#111" stroke-width="1.0" />
<line x1="196.9" y1="846.6" x2="361.0" y2="846.6" stroke="#111" stroke-width="1.0" />
<line x1="196.9" y1="859.3" x2="361.0" y2="859.3" stroke="#111" stroke-width="1.0" />
<line x1="197.4" y1="668.0" x2="197.4" y2="859.3" stroke="#222" stroke-width="1.0" />
<line x1="360.5" y1="668.0" x2="360.5" y2="859.3" stroke="#000" stroke-width="1.0" />
<line x1="240.1" y1="680.5" x2="240.1" y2="859.3" stroke="#000" stroke-width="1.8" />
<text x="279.2" y="677.9" font-family='"Liberation Sans", sans-serif' font-size="10" font-weight="normal" fill="#000" text-anchor="middle" textLength="69.6" lengthAdjust="spacingAndGlyphs" >Pin Assignment</text>
<text x="220.3" y="690.7" font-family='"Liberation Sans", sans-serif' font-size="10.2" font-weight="normal" fill="#000" text-anchor="middle" stroke="#000" stroke-width="0.12">1</text>
<text x="242.9" y="690.7" font-family='"Liberation Sans", sans-serif' font-size="10.2" font-weight="normal" fill="#000" text-anchor="start" textLength="34" lengthAdjust="spacingAndGlyphs" stroke="#000" stroke-width="0.12">TEC (+)</text>
<text x="220.3" y="703.7" font-family='"Liberation Sans", sans-serif' font-size="10.2" font-weight="normal" fill="#000" text-anchor="middle" stroke="#000" stroke-width="0.12">2</text>
<text x="242.9" y="703.7" font-family='"Liberation Sans", sans-serif' font-size="10.2" font-weight="normal" fill="#000" text-anchor="start" textLength="62.5" lengthAdjust="spacingAndGlyphs" stroke="#000" stroke-width="0.12">THERMISTOR</text>
<text x="220.3" y="716.7" font-family='"Liberation Sans", sans-serif' font-size="10.2" font-weight="normal" fill="#000" text-anchor="middle" stroke="#000" stroke-width="0.12">3</text>
<text x="220.3" y="729.2" font-family='"Liberation Sans", sans-serif' font-size="10.2" font-weight="normal" fill="#000" text-anchor="middle" stroke="#000" stroke-width="0.12">4</text>
<text x="220.3" y="742.2" font-family='"Liberation Sans", sans-serif' font-size="10.2" font-weight="normal" fill="#000" text-anchor="middle" stroke="#000" stroke-width="0.12">5</text>
<text x="242.9" y="742.2" font-family='"Liberation Sans", sans-serif' font-size="10.2" font-weight="normal" fill="#000" text-anchor="start" textLength="62.5" lengthAdjust="spacingAndGlyphs" stroke="#000" stroke-width="0.12">THERMISTOR</text>
<text x="220.3" y="754.7" font-family='"Liberation Sans", sans-serif' font-size="10.2" font-weight="normal" fill="#000" text-anchor="middle" stroke="#000" stroke-width="0.12">6</text>
<text x="242.9" y="754.7" font-family='"Liberation Sans", sans-serif' font-size="10.2" font-weight="normal" fill="#000" text-anchor="start" stroke="#000" stroke-width="0.12">&#8211;</text>
<text x="220.3" y="767.7" font-family='"Liberation Sans", sans-serif' font-size="10.2" font-weight="normal" fill="#000" text-anchor="middle" stroke="#000" stroke-width="0.12">7</text>
<text x="242.9" y="767.7" font-family='"Liberation Sans", sans-serif' font-size="10.2" font-weight="normal" fill="#000" text-anchor="start" stroke="#000" stroke-width="0.12">&#8211;</text>
<text x="220.3" y="780.7" font-family='"Liberation Sans", sans-serif' font-size="10.2" font-weight="normal" fill="#000" text-anchor="middle" stroke="#000" stroke-width="0.12">8</text>
<text x="242.9" y="780.7" font-family='"Liberation Sans", sans-serif' font-size="10.2" font-weight="normal" fill="#000" text-anchor="start" stroke="#000" stroke-width="0.12">&#8211;</text>
<text x="220.3" y="793.2" font-family='"Liberation Sans", sans-serif' font-size="10.2" font-weight="normal" fill="#000" text-anchor="middle" stroke="#000" stroke-width="0.12">9</text>
<text x="242.9" y="793.2" font-family='"Liberation Sans", sans-serif' font-size="10.2" font-weight="normal" fill="#000" text-anchor="start" stroke="#000" stroke-width="0.12">&#8211;</text>
<text x="220.3" y="805.2" font-family='"Liberation Sans", sans-serif' font-size="10.2" font-weight="normal" fill="#000" text-anchor="middle" stroke="#000" stroke-width="0.12">10</text>
<text x="242.9" y="805.2" font-family='"Liberation Sans", sans-serif' font-size="10.2" font-weight="normal" fill="#000" text-anchor="start" textLength="65" lengthAdjust="spacingAndGlyphs" stroke="#000" stroke-width="0.12">LD ANODE (+)</text>
<text x="220.3" y="818.7" font-family='"Liberation Sans", sans-serif' font-size="10.2" font-weight="normal" fill="#000" text-anchor="middle" stroke="#000" stroke-width="0.12">11</text>
<text x="242.9" y="818.7" font-family='"Liberation Sans", sans-serif' font-size="10.2" font-weight="normal" fill="#000" text-anchor="start" textLength="73.5" lengthAdjust="spacingAndGlyphs" stroke="#000" stroke-width="0.12">LD CATHODE (-)</text>
<text x="220.3" y="831.7" font-family='"Liberation Sans", sans-serif' font-size="10.2" font-weight="normal" fill="#000" text-anchor="middle" stroke="#000" stroke-width="0.12">12</text>
<text x="242.9" y="831.7" font-family='"Liberation Sans", sans-serif' font-size="10.2" font-weight="normal" fill="#000" text-anchor="start" stroke="#000" stroke-width="0.12">&#8211;</text>
<text x="220.3" y="844.5" font-family='"Liberation Sans", sans-serif' font-size="10.2" font-weight="normal" fill="#000" text-anchor="middle" stroke="#000" stroke-width="0.12">13</text>
<text x="242.9" y="844.5" font-family='"Liberation Sans", sans-serif' font-size="10.2" font-weight="normal" fill="#000" text-anchor="start" textLength="25.5" lengthAdjust="spacingAndGlyphs" stroke="#000" stroke-width="0.12">CASE</text>
<text x="220.3" y="856.8" font-family='"Liberation Sans", sans-serif' font-size="10.2" font-weight="normal" fill="#000" text-anchor="middle" stroke="#000" stroke-width="0.12">14</text>
<text x="242.9" y="856.8" font-family='"Liberation Sans", sans-serif' font-size="10.2" font-weight="normal" fill="#000" text-anchor="start" textLength="31" lengthAdjust="spacingAndGlyphs" stroke="#000" stroke-width="0.12">TEC (-)</text>
<g id="schem"><path d="M399,719.3 H511.5 V785.3 H399 Z M405.1,725.8 V779.4 H506.6 V725.8 Z" fill="#000" fill-rule="evenodd"/>
<rect x="411" y="701.2" width="6" height="18.3" fill="#000"/>
<text x="414.0" y="699.8" font-family='"Liberation Sans", sans-serif' font-size="10.6" fill="#000" text-anchor="middle">7</text>
<rect x="424.7" y="701.2" width="5.8" height="18.3" fill="#000"/>
<text x="427.6" y="699.8" font-family='"Liberation Sans", sans-serif' font-size="10.6" fill="#000" text-anchor="middle">6</text>
<rect x="438" y="701.2" width="6.7" height="18.3" fill="#000"/>
<text x="441.35" y="699.8" font-family='"Liberation Sans", sans-serif' font-size="10.6" fill="#000" text-anchor="middle">5</text>
<rect x="453.7" y="701.2" width="5.3" height="18.3" fill="#000"/>
<text x="456.35" y="699.8" font-family='"Liberation Sans", sans-serif' font-size="10.6" fill="#000" text-anchor="middle">4</text>
<rect x="466.6" y="701.2" width="5.9" height="18.3" fill="#000"/>
<text x="469.55" y="699.8" font-family='"Liberation Sans", sans-serif' font-size="10.6" fill="#000" text-anchor="middle">3</text>
<rect x="479.9" y="701.2" width="6.0" height="18.3" fill="#000"/>
<text x="482.9" y="699.8" font-family='"Liberation Sans", sans-serif' font-size="10.6" fill="#000" text-anchor="middle">2</text>
<rect x="493.8" y="701.2" width="6.0" height="18.3" fill="#000"/>
<text x="496.8" y="699.8" font-family='"Liberation Sans", sans-serif' font-size="10.6" fill="#000" text-anchor="middle">1</text>
<rect x="410.9" y="785" width="6.4" height="18.3" fill="#000"/>
<text x="414.5" y="813.4" font-family='"Liberation Sans", sans-serif' font-size="10.4" fill="#000" text-anchor="middle">8</text>
<rect x="424.4" y="785" width="6.4" height="18.3" fill="#000"/>
<text x="427.6" y="813.4" font-family='"Liberation Sans", sans-serif' font-size="10.4" fill="#000" text-anchor="middle">9</text>
<rect x="438" y="785" width="6.7" height="18.3" fill="#000"/>
<text x="441.3" y="813.4" font-family='"Liberation Sans", sans-serif' font-size="10.4" fill="#000" text-anchor="middle">10</text>
<rect x="453" y="785" width="6.5" height="18.3" fill="#000"/>
<text x="457.3" y="813.4" font-family='"Liberation Sans", sans-serif' font-size="10.4" fill="#000" text-anchor="middle">11</text>
<rect x="466.6" y="785" width="6.4" height="18.3" fill="#000"/>
<text x="469.8" y="813.4" font-family='"Liberation Sans", sans-serif' font-size="10.4" fill="#000" text-anchor="middle">12</text>
<rect x="480" y="785" width="6.5" height="18.3" fill="#000"/>
<text x="482.8" y="813.4" font-family='"Liberation Sans", sans-serif' font-size="10.4" fill="#000" text-anchor="middle">13</text>
<rect x="493.7" y="785" width="6.3" height="18.3" fill="#000"/>
<text x="496.4" y="813.4" font-family='"Liberation Sans", sans-serif' font-size="10.4" fill="#000" text-anchor="middle">14</text>
<rect x="511" y="743" width="43.8" height="20" fill="#000"/>
<rect x="444.6" y="747.4" width="35" height="9.8" fill="#fff" stroke="#222" stroke-width="0.9"/>
<text x="462.1" y="755.2" font-family='"Liberation Sans", sans-serif' font-size="7.6" font-weight="bold" fill="#111" text-anchor="middle" textLength="21" lengthAdjust="spacingAndGlyphs">THER</text>
<path d="M440.8,727 V752.5 H444.6 M483.9,727 V752.5 H479.6" fill="none" stroke="#222" stroke-width="0.9"/>
<rect x="491.2" y="736.4" width="10.2" height="35.1" fill="#fff" stroke="#222" stroke-width="0.9"/>
<text x="0" y="0" font-family='"Liberation Sans", sans-serif' font-size="9.6" fill="#111" text-anchor="middle" textLength="23" lengthAdjust="spacingAndGlyphs" stroke="#111" stroke-width="0.15" transform="translate(493.3,753.5) rotate(90)">+TEC-</text>
<path d="M496.3,725.8 V736.4 M496.3,771.5 V779.4" fill="none" stroke="#222" stroke-width="0.9"/>
<path d="M440.8,779.4 V768.8 H446.5 M458.7,779.4 V768.8 H455.2" fill="none" stroke="#222" stroke-width="0.9"/>
<path d="M446.5,764 L453.5,768.8 L446.5,773.5 Z M455.2,764 V773.5" fill="none" stroke="#222" stroke-width="0.9"/>
<path d="M443.8,760.7 L446.40000000000003,763.3 M443.8,763.3 L446.40000000000003,760.7" stroke="#1030ff" stroke-width="1"/>
<path d="M447.8,767.7 L450.40000000000003,770.3 M447.8,770.3 L450.40000000000003,767.7" stroke="#1030ff" stroke-width="1"/>
<path d="M443.8,773.4000000000001 L446.40000000000003,776.0 M443.8,776.0 L446.40000000000003,773.4000000000001" stroke="#1030ff" stroke-width="1"/>
<path d="M453.9,767.7 L456.5,770.3 M453.9,770.3 L456.5,767.7" stroke="#1030ff" stroke-width="1"/>
<text x="440.4" y="834.4" font-family='"Liberation Sans", sans-serif' font-size="10" fill="#000" textLength="35" lengthAdjust="spacingAndGlyphs">Top view</text></g>
<rect x="115" y="890.0" width="522.3" height="1.6" fill="#2020ff" stroke="none" stroke-width="1" />
<rect x="115" y="893.0" width="522.3" height="2.4" fill="#0000ff" stroke="none" stroke-width="1" />
<text x="115.4" y="910" font-family='"Liberation Sans", sans-serif' font-size="9" font-weight="normal" fill="#000" text-anchor="start" stroke="#000" stroke-width="0.2">Jan 2013</text>
<text x="115.4" y="921.7" font-family='"Liberation Sans", sans-serif' font-size="9" font-weight="normal" fill="#000" text-anchor="start" stroke="#000" stroke-width="0.2">Rev B</text>
<text x="637" y="910.2" font-family='"Liberation Sans", sans-serif' font-size="9.2" font-weight="normal" fill="#000" text-anchor="end" stroke="#000" stroke-width="0.2">DL-CLS409B-S1383</text>
<text x="637" y="920.6" font-family='"Liberation Sans", sans-serif' font-size="9.2" font-weight="normal" fill="#000" text-anchor="end" stroke="#000" stroke-width="0.2">4/4</text>
</svg></body></html>
